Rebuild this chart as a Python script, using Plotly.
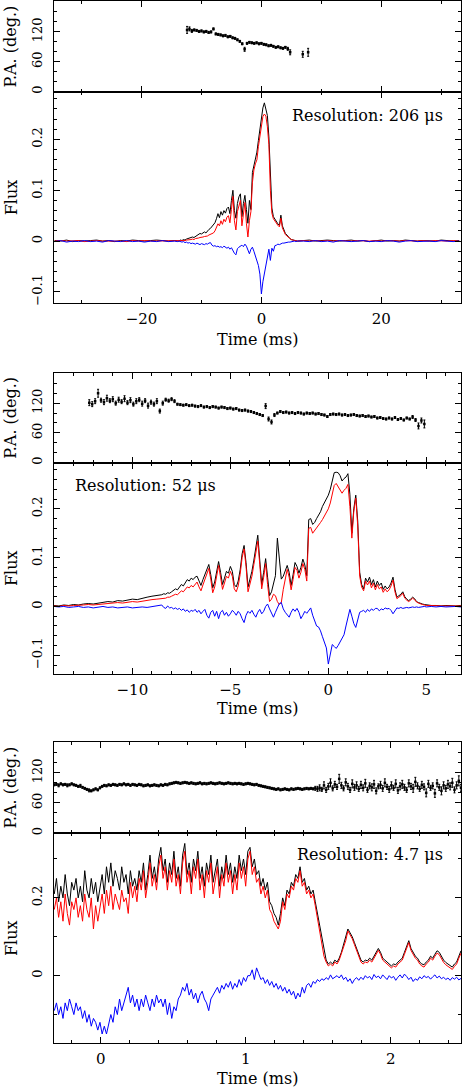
import numpy as np
import plotly.graph_objects as go

# ================= DATA =================
# ---- Panel 1 (206 us) ----
P1_MID_T0, P1_MID_DT = -14.0, 0.25
P1_I = [0.001, 0.000, 0.002, 0.001, 0.003, 0.002, 0.004, 0.005, 0.005, 0.006,
        0.008, 0.007, 0.009, 0.011, 0.013, 0.015, 0.014, 0.017, 0.018, 0.016,
        0.020, 0.023, 0.025, 0.028, 0.031, 0.036, 0.044, 0.054, 0.046, 0.058,
        0.051, 0.060, 0.055, 0.064, 0.067, 0.054, 0.080, 0.100, 0.060, 0.045,
        0.074, 0.087, 0.093, 0.048, 0.074, 0.090, 0.062, 0.035, 0.080, 0.062,
        0.135, 0.150, 0.162, 0.175, 0.198, 0.220, 0.240, 0.262, 0.272, 0.257,
        0.247, 0.205, 0.115, 0.065, 0.048, 0.043, 0.038, 0.034, 0.031, 0.051,
        0.030, 0.020, 0.015, 0.012, 0.008, 0.005, 0.003, 0.002, 0.001, 0.001,
        0.000]
P1_L = [0.000, 0.000, 0.001, 0.000, 0.001, 0.001, 0.002, 0.002, 0.003, 0.003,
        0.004, 0.003, 0.005, 0.005, 0.006, 0.007, 0.007, 0.008, 0.009, 0.009,
        0.010, 0.012, 0.013, 0.015, 0.016, 0.020, 0.027, 0.034, 0.030, 0.040,
        0.033, 0.043, 0.038, 0.047, 0.050, 0.036, 0.062, 0.088, 0.040, 0.022,
        0.058, 0.070, 0.080, 0.030, 0.058, 0.076, 0.035, 0.008, 0.040, 0.058,
        0.115, 0.140, 0.152, 0.160, 0.186, 0.205, 0.228, 0.245, 0.250, 0.246,
        0.225, 0.190, 0.100, 0.055, 0.044, 0.039, 0.034, 0.031, 0.028, 0.045,
        0.026, 0.018, 0.013, 0.010, 0.007, 0.004, 0.003, 0.002, 0.001, 0.000,
        0.000]
P1_V = [-0.001, 0.000, -0.001, -0.002, -0.001, -0.003, -0.002, -0.004, -0.003, -0.005,
        -0.004, -0.005, -0.006, -0.004, -0.006, -0.007, -0.005, -0.006, -0.007, -0.005,
        -0.006, -0.004, -0.003, -0.008, -0.010, -0.009, -0.011, -0.010, -0.012, -0.011,
        -0.013, -0.010, -0.012, -0.014, -0.012, -0.016, -0.013, -0.019, -0.024, -0.027,
        -0.015, -0.012, -0.010, -0.008, -0.011, -0.006, -0.010, -0.018, -0.025, -0.016,
        -0.012, -0.020, -0.030, -0.038, -0.048, -0.065, -0.104, -0.080, -0.065, -0.050,
        -0.036, -0.016, -0.038, -0.014, -0.020, -0.009, -0.008, -0.006, -0.007, -0.005,
        -0.004, -0.004, -0.003, -0.003, -0.002, -0.002, -0.001, -0.001, 0.000, -0.001,
        0.000]
P1_BL_T0, P1_BL_DT = -34.5, 1.0
P1_BL_I = [0.001, 0.000, 0.002, -0.001, 0.001, 0.000, 0.001, 0.002, 0.000, 0.001, -0.001,
           0.001, 0.000, 0.002, 0.001, 0.000, 0.001, 0.002, 0.001, 0.000, 0.001]
P1_BL_L = [0.000, 0.001, 0.000, 0.000, 0.001, -0.001, 0.000, 0.001, 0.000, 0.000, 0.001,
           0.000, -0.001, 0.001, 0.000, 0.001, 0.000, 0.000, 0.001, 0.000, 0.000]
P1_BL_V = [-0.001, 0.001, -0.002, 0.000, -0.001, 0.001, -0.001, 0.000, -0.002, 0.001, 0.000,
           -0.001, 0.001, -0.001, 0.000, -0.002, 0.000, -0.001, 0.001, -0.001, 0.000]
P1_BR_T0, P1_BR_DT = 7.0, 1.0
P1_BR_I = [0.001, 0.002, 0.000, 0.001, 0.002, 0.001, 0.000, 0.001, 0.002, 0.000, 0.001, -0.001, 0.001, 0.002,
           0.000, 0.001, 0.000, 0.002, 0.001, 0.000, 0.001, 0.001, 0.000, 0.002, 0.001, 0.000, 0.001]
P1_BR_L = [0.001, 0.000, 0.001, 0.000, 0.001, 0.000, 0.001, 0.000, 0.000, 0.001, 0.000, 0.000, 0.001, 0.000,
           0.001, 0.000, 0.000, 0.001, 0.000, 0.000, 0.001, 0.000, 0.001, 0.000, 0.000, 0.001, 0.000]
P1_BR_V = [0.000, -0.001, 0.001, -0.001, 0.000, -0.002, 0.001, 0.000, -0.001, 0.000, 0.001, -0.001, 0.000, -0.001,
           0.001, 0.000, -0.002, 0.000, 0.001, -0.001, 0.000, 0.000, -0.001, 0.001, 0.000, -0.001, 0.000]
P1_PA_T0, P1_PA_DT = -12.4, 0.4
P1_PA = [124, 126, 122, 124, 123, 121, 122, 120, 121, 119,
         120, 126, 116, 115, 114, 112, 113, 110, 111, 108,
         107, 104, 101, 96, 85, 97, 99, 98, 97, 98,
         96, 97, 95, 94, 92, 93, 91, 89, 90, 88,
         87, 89, 86, 79]
P1_PA_ERR = [7, 4, 3, 2, 2, 2, 2, 2, 2, 2,
             2, 2, 2, 2, 2, 2, 2, 2, 2, 2,
             2, 2, 2, 2, 4, 2, 2, 2, 2, 2,
             2, 2, 2, 2, 2, 2, 2, 2, 2, 2,
             2, 2, 3, 5]
P1_PA_EXTRA_T = [6.9, 7.8]
P1_PA_EXTRA = [75, 79]
P1_PA_EXTRA_ERR = [6, 8]

# ---- Panel 2 (52 us) ----
P2_MID_T0, P2_MID_DT = -8.5, 0.1
P2_I = [0.024, 0.026, 0.025, 0.028, 0.027, 0.030, 0.033, 0.036, 0.034, 0.040,
        0.045, 0.042, 0.050, 0.055, 0.052, 0.058, 0.055, 0.060, 0.062, 0.052,
        0.043, 0.055, 0.065, 0.075, 0.086, 0.065, 0.038, 0.050, 0.075, 0.092,
        0.070, 0.045, 0.058, 0.072, 0.068, 0.082, 0.072, 0.045, 0.040, 0.052,
        0.075, 0.108, 0.125, 0.090, 0.040, 0.055, 0.072, 0.095, 0.120, 0.146,
        0.095, 0.045, 0.070, 0.098, 0.060, 0.022, 0.030, 0.045, 0.063, 0.140,
        0.095, 0.056, 0.062, 0.075, 0.084, 0.070, 0.043, 0.065, 0.090, 0.082,
        0.068, 0.080, 0.097, 0.085, 0.063, 0.178, 0.180, 0.168, 0.172, 0.180,
        0.186, 0.194, 0.205, 0.213, 0.220, 0.228, 0.240, 0.255, 0.274, 0.275,
        0.274, 0.268, 0.257, 0.262, 0.265, 0.272, 0.230, 0.150, 0.200, 0.228,
        0.175, 0.070, 0.045, 0.036, 0.058, 0.050, 0.060, 0.045, 0.055, 0.040,
        0.052, 0.043, 0.048, 0.035, 0.042, 0.036, 0.040, 0.048, 0.060, 0.035,
        0.019, 0.022, 0.025, 0.030, 0.020, 0.015, 0.012, 0.015, 0.019, 0.016,
        0.010, 0.008, 0.006, 0.005, 0.004, 0.003]
P2_L = [0.016, 0.017, 0.017, 0.019, 0.019, 0.021, 0.023, 0.025, 0.024, 0.028,
        0.032, 0.030, 0.036, 0.040, 0.038, 0.043, 0.040, 0.046, 0.050, 0.040,
        0.032, 0.044, 0.055, 0.066, 0.078, 0.056, 0.028, 0.040, 0.066, 0.084,
        0.060, 0.035, 0.048, 0.062, 0.058, 0.072, 0.062, 0.036, 0.030, 0.042,
        0.066, 0.100, 0.118, 0.082, 0.030, 0.046, 0.062, 0.086, 0.110, 0.134,
        0.086, 0.036, 0.060, 0.088, 0.045, 0.010, 0.015, 0.025, 0.022, 0.010,
        0.004, 0.008, 0.035, 0.060, 0.076, 0.060, 0.034, 0.055, 0.080, 0.074,
        0.058, 0.070, 0.088, 0.076, 0.052, 0.160, 0.162, 0.150, 0.155, 0.160,
        0.166, 0.172, 0.178, 0.186, 0.192, 0.200, 0.212, 0.230, 0.248, 0.252,
        0.246, 0.240, 0.232, 0.238, 0.242, 0.250, 0.205, 0.140, 0.195, 0.222,
        0.165, 0.062, 0.040, 0.032, 0.052, 0.044, 0.052, 0.038, 0.048, 0.034,
        0.045, 0.036, 0.040, 0.029, 0.036, 0.030, 0.034, 0.042, 0.054, 0.030,
        0.016, 0.019, 0.022, 0.027, 0.017, 0.013, 0.010, 0.013, 0.017, 0.014,
        0.009, 0.007, 0.005, 0.004, 0.003, 0.002]
P2_V = [0.003, -0.002, -0.004, 0.001, -0.003, -0.002, -0.005, -0.003, -0.006, -0.004,
        -0.008, -0.005, -0.010, -0.007, -0.012, -0.008, -0.010, -0.006, -0.012, -0.008,
        -0.015, -0.010, -0.006, -0.018, -0.024, -0.012, -0.008, -0.020, -0.010, -0.025,
        -0.012, -0.008, -0.018, -0.012, -0.020, -0.015, -0.008, -0.012, -0.018, -0.010,
        -0.015, -0.025, -0.033, -0.018, -0.010, -0.014, -0.008, -0.016, -0.022, -0.012,
        -0.006, -0.015, -0.010, 0.000, 0.005, -0.005, -0.015, -0.022, -0.012, -0.002,
        0.006, 0.008, -0.005, -0.012, -0.018, -0.022, -0.012, -0.005, -0.010, -0.004,
        -0.012, -0.025, -0.018, -0.010, -0.014, -0.008, -0.003, -0.018, -0.028, -0.040,
        -0.042, -0.050, -0.062, -0.072, -0.085, -0.118, -0.095, -0.078, -0.082, -0.086,
        -0.080, -0.072, -0.065, -0.058, -0.040, -0.025, -0.006, -0.020, -0.035, -0.043,
        -0.030, -0.012, -0.010, -0.008, -0.012, -0.006, -0.010, -0.005, -0.008, -0.004,
        -0.004, -0.009, -0.005, -0.007, -0.003, -0.005, -0.004, -0.008, -0.015, -0.010,
        -0.003, -0.004, -0.002, -0.004, -0.003, -0.002, -0.003, -0.002, -0.001, -0.002,
        -0.001, -0.002, -0.001, -0.001, 0.000, -0.001]
P2_BL_T0, P2_BL_DT = -14.0, 0.25
P2_BL_I = [0.002, 0.001, 0.003, 0.002, 0.004, 0.003, 0.005, 0.006, 0.005, 0.007, 0.008,
           0.010, 0.009, 0.012, 0.011, 0.013, 0.015, 0.014, 0.017, 0.019, 0.021, 0.022]
P2_BL_L = [0.001, 0.000, 0.002, 0.001, 0.002, 0.002, 0.003, 0.004, 0.003, 0.004, 0.005,
           0.006, 0.006, 0.008, 0.007, 0.008, 0.010, 0.009, 0.011, 0.013, 0.014, 0.015]
P2_BL_V = [0.000, -0.001, 0.000, -0.002, -0.001, 0.000, -0.002, -0.001, -0.003, -0.002, 0.000,
           -0.002, -0.001, -0.003, -0.002, -0.001, -0.003, -0.002, -0.001, -0.002, 0.000, 0.002]
P2_BR_T0, P2_BR_DT = 5.25, 0.25
P2_BR_I = [0.002, 0.002, 0.001, 0.002, 0.001, 0.001, 0.002, 0.001]
P2_BR_L = [0.002, 0.001, 0.001, 0.001, 0.001, 0.000, 0.001, 0.001]
P2_BR_V = [0.000, -0.001, 0.000, -0.001, 0.000, 0.000, -0.001, 0.000]
P2_PA_T0, P2_PA_DT = -12.2, 0.15
P2_PA = [121, 118, 124, 140, 126, 122, 130, 125, 128, 120,
         127, 123, 129, 121, 126, 118, 124, 127, 119, 125,
         115, 122, 118, 124, 104, 120, 127, 125, 128, 124,
         118, 117, 116, 117, 115, 116, 114, 113, 115, 112,
         113, 111, 113, 112, 110, 112, 111, 109, 110, 108,
         109, 106, 105, 106, 104, 103, 101, 99, 97, 95,
         114, 88, 82, 96, 100, 103, 101, 102, 100, 101,
         99, 101, 100, 98, 100, 99, 100, 98, 99, 97,
         96, 93, 97, 98, 97, 98, 96, 97, 95, 96,
         97, 95, 94, 95, 93, 94, 92, 93, 90, 91,
         89, 88, 90, 88, 91, 87, 89, 86, 90, 88,
         92, 86, 74, 85, 78]
P2_PA_ERR = [6, 5, 5, 8, 4, 5, 6, 4, 5, 4,
             5, 4, 6, 4, 5, 4, 5, 4, 5, 4,
             5, 4, 4, 5, 4, 4, 3, 3, 3, 3,
             2, 2, 2, 2, 2, 2, 2, 2, 2, 2,
             2, 2, 2, 2, 2, 2, 2, 2, 2, 2,
             2, 2, 2, 2, 2, 2, 2, 2, 2, 2,
             5, 4, 4, 3, 2, 2, 2, 2, 2, 2,
             2, 2, 2, 2, 2, 2, 2, 2, 2, 2,
             2, 2, 2, 2, 2, 2, 2, 2, 2, 2,
             2, 2, 2, 2, 2, 2, 2, 2, 2, 2,
             2, 2, 2, 2, 2, 2, 2, 2, 2, 2,
             3, 3, 6, 5, 8]

# ---- Panel 3 (4.7 us) ----
P3_T0, P3_DT = -0.32, 0.015
P3_I = [0.21, 0.25, 0.19, 0.23, 0.20, 0.26, 0.21, 0.18, 0.24, 0.22,
        0.25, 0.20, 0.23, 0.19, 0.27, 0.22, 0.20, 0.25, 0.21, 0.24,
        0.19, 0.23, 0.26, 0.21, 0.28, 0.24, 0.29, 0.23, 0.27, 0.25,
        0.22, 0.28, 0.24, 0.26, 0.21, 0.27, 0.23, 0.25, 0.22, 0.27,
        0.24, 0.29, 0.22, 0.26, 0.31, 0.25, 0.28, 0.24, 0.30, 0.33,
        0.27, 0.30, 0.24, 0.29, 0.26, 0.32, 0.25, 0.28, 0.23, 0.31,
        0.34, 0.26, 0.29, 0.24, 0.30, 0.27, 0.32, 0.25, 0.28, 0.23,
        0.29, 0.26, 0.31, 0.24, 0.27, 0.30, 0.23, 0.28, 0.25, 0.31,
        0.26, 0.29, 0.24, 0.28, 0.25, 0.31, 0.27, 0.30, 0.26, 0.32,
        0.33, 0.28, 0.30, 0.26, 0.27, 0.23, 0.25, 0.22, 0.24, 0.19,
        0.18, 0.16, 0.15, 0.13, 0.16, 0.20, 0.18, 0.22, 0.21, 0.24,
        0.23, 0.26, 0.25, 0.28, 0.24, 0.25, 0.22, 0.23, 0.21, 0.22,
        0.19, 0.16, 0.12, 0.09, 0.06, 0.04, 0.03, 0.035, 0.03, 0.04,
        0.035, 0.045, 0.06, 0.08, 0.095, 0.12, 0.11, 0.10, 0.085, 0.07,
        0.05, 0.04, 0.035, 0.04, 0.038, 0.045, 0.04, 0.05, 0.06, 0.07,
        0.06, 0.045, 0.04, 0.035, 0.03, 0.025, 0.03, 0.028, 0.035, 0.04,
        0.045, 0.06, 0.075, 0.09, 0.07, 0.06, 0.05, 0.045, 0.035, 0.03,
        0.028, 0.035, 0.04, 0.05, 0.045, 0.055, 0.064, 0.06, 0.05, 0.04,
        0.034, 0.03, 0.025, 0.022, 0.03, 0.035, 0.05, 0.064]
P3_L = [0.17, 0.20, 0.15, 0.19, 0.14, 0.21, 0.16, 0.13, 0.19, 0.17,
        0.20, 0.15, 0.18, 0.14, 0.21, 0.17, 0.15, 0.20, 0.12, 0.18,
        0.14, 0.18, 0.21, 0.16, 0.22, 0.18, 0.23, 0.17, 0.21, 0.19,
        0.17, 0.22, 0.19, 0.20, 0.16, 0.24, 0.20, 0.23, 0.19, 0.25,
        0.22, 0.27, 0.20, 0.24, 0.29, 0.23, 0.26, 0.22, 0.28, 0.31,
        0.25, 0.28, 0.22, 0.27, 0.24, 0.30, 0.23, 0.26, 0.21, 0.29,
        0.32, 0.24, 0.27, 0.21, 0.28, 0.25, 0.30, 0.22, 0.26, 0.20,
        0.27, 0.24, 0.29, 0.21, 0.25, 0.28, 0.20, 0.26, 0.23, 0.29,
        0.24, 0.27, 0.21, 0.26, 0.22, 0.29, 0.25, 0.28, 0.23, 0.30,
        0.32, 0.26, 0.28, 0.24, 0.25, 0.21, 0.23, 0.20, 0.22, 0.17,
        0.16, 0.14, 0.13, 0.12, 0.14, 0.19, 0.17, 0.21, 0.20, 0.23,
        0.22, 0.25, 0.24, 0.27, 0.23, 0.24, 0.21, 0.22, 0.20, 0.21,
        0.18, 0.15, 0.11, 0.08, 0.05, 0.035, 0.025, 0.03, 0.025, 0.035,
        0.03, 0.04, 0.055, 0.075, 0.09, 0.115, 0.105, 0.095, 0.08, 0.065,
        0.045, 0.035, 0.03, 0.035, 0.033, 0.04, 0.035, 0.045, 0.055, 0.065,
        0.055, 0.04, 0.035, 0.03, 0.025, 0.02, 0.025, 0.022, 0.03, 0.035,
        0.04, 0.055, 0.07, 0.085, 0.065, 0.055, 0.045, 0.04, 0.03, 0.025,
        0.022, 0.03, 0.035, 0.045, 0.04, 0.05, 0.058, 0.054, 0.044, 0.034,
        0.028, 0.024, 0.018, 0.016, 0.024, 0.03, 0.045, 0.058]
P3_V = [-0.09, -0.07, -0.10, -0.08, -0.11, -0.07, -0.09, -0.06, -0.08, -0.10,
        -0.07, -0.09, -0.08, -0.11, -0.09, -0.12, -0.10, -0.13, -0.11, -0.12,
        -0.14, -0.12, -0.15, -0.13, -0.15, -0.12, -0.10, -0.12, -0.08, -0.10,
        -0.06, -0.09, -0.07, -0.05, -0.03, -0.07, -0.05, -0.08, -0.06, -0.09,
        -0.06, -0.08, -0.05, -0.07, -0.09, -0.06, -0.08, -0.05, -0.07, -0.06,
        -0.08, -0.06, -0.10, -0.07, -0.11, -0.08, -0.09, -0.06, -0.05, -0.03,
        -0.04, -0.02, -0.05, -0.035, -0.06, -0.045, -0.07, -0.05, -0.04, -0.06,
        -0.07, -0.09, -0.06, -0.05, -0.04, -0.03, -0.045, -0.025, -0.035, -0.02,
        -0.03, -0.015, -0.035, -0.02, -0.03, -0.01, -0.025, -0.005, -0.015, 0.0,
        0.0, 0.015, -0.01, 0.02, 0.005, -0.01, -0.005, -0.02, -0.01, -0.025,
        -0.015, -0.03, -0.02, -0.035, -0.025, -0.04, -0.03, -0.045, -0.035, -0.05,
        -0.04, -0.06, -0.045, -0.055, -0.03, -0.045, -0.025, -0.02, -0.03, -0.015,
        -0.02, -0.01, -0.015, -0.008, -0.012, -0.005, -0.01, 0.002, -0.008, -0.004,
        0.0, -0.006, 0.002, -0.01, -0.004, -0.015, -0.008, -0.02, -0.01, -0.005,
        -0.012, -0.004, -0.01, 0.0, -0.006, -0.002, -0.01, 0.003, -0.005, -0.001,
        -0.008, 0.002, -0.004, -0.01, 0.0, -0.006, -0.002, -0.012, -0.004, 0.002,
        -0.006, 0.004, -0.002, -0.01, -0.004, -0.015, -0.008, -0.012, -0.003, -0.008,
        0.0, -0.005, -0.002, -0.009, -0.003, 0.002, -0.006, -0.001, -0.008, -0.004,
        -0.01, -0.006, -0.012, -0.005, -0.009, -0.004, -0.011, -0.007]
P3_PA = [96, 97, 95, 98, 96, 97, 95, 96, 98, 96,
         95, 93, 94, 91, 89, 87, 85, 84, 86, 88,
         86, 90, 93, 95, 94, 96, 95, 97, 96, 95,
         97, 96, 98, 96, 97, 95, 97, 96, 95, 97,
         96, 94, 95, 96, 94, 95, 96, 95, 94, 96,
         95, 97, 96, 98, 99, 100, 101, 100, 99, 100,
         101, 100, 99, 100, 99, 98, 99, 100, 98, 99,
         98, 99, 100, 99, 98, 99, 100, 99, 98, 99,
         100, 99, 98, 99, 98, 99, 98, 97, 98, 99,
         98, 97, 96, 97, 95, 94, 93, 92, 91, 90,
         89, 88, 87, 88, 86, 87, 88, 87, 86, 88,
         87, 88, 89, 88, 87, 88, 89, 88, 89, 88,
         89, 88, 90, 87, 95, 86, 93, 100, 89, 97,
         92, 108, 95, 89, 101, 93, 86, 98, 91, 95,
         88, 96, 90, 99, 86, 94, 91, 97, 84, 93,
         96, 89, 100, 92, 87, 95, 90, 98, 85, 93,
         97, 91, 86, 99, 93, 89, 102, 94, 88, 96,
         92, 80, 98, 90, 94, 79, 99, 91, 84, 95,
         89, 97, 93, 100, 86, 95, 104, 90]
P3_PA_ERR = [2, 2, 3, 2, 2, 2, 3, 2, 2, 2,
             2, 2, 3, 2, 2, 2, 3, 2, 2, 2,
             2, 2, 2, 2, 2, 2, 2, 2, 2, 2,
             2, 2, 2, 2, 2, 2, 2, 2, 2, 2,
             2, 2, 2, 2, 2, 2, 2, 2, 2, 2,
             2, 2, 2, 2, 2, 2, 2, 2, 2, 2,
             2, 2, 2, 2, 2, 2, 2, 2, 2, 2,
             2, 2, 2, 2, 2, 2, 2, 2, 2, 2,
             2, 2, 2, 2, 2, 2, 2, 2, 2, 2,
             2, 2, 2, 2, 2, 2, 2, 2, 2, 2,
             2, 2, 2, 2, 2, 2, 2, 2, 2, 2,
             2, 2, 2, 2, 2, 2, 2, 2, 2, 2,
             4, 5, 6, 4, 7, 5, 6, 8, 5, 6,
             5, 9, 6, 5, 7, 6, 5, 8, 6, 7,
             5, 7, 6, 8, 5, 6, 7, 8, 6, 5,
             7, 6, 8, 5, 6, 7, 5, 8, 6, 7,
             8, 6, 5, 7, 6, 8, 9, 6, 5, 7,
             6, 8, 7, 5, 6, 8, 7, 6, 8, 7,
             6, 8, 7, 9, 6, 7, 10, 7]

RES_LABELS = ["Resolution: 206 \u03bcs", "Resolution: 52 \u03bcs", "Resolution: 4.7 \u03bcs"]
X_TITLE = "Time (ms)"
PA_TITLE = "P.A. (deg.)"
FLUX_TITLE = "Flux"


def grid(t0, dt, vals):
    return t0 + dt * np.arange(len(vals))


def concat(*parts):
    ts, vs = [], []
    for t0, dt, v in parts:
        ts.append(grid(t0, dt, v))
        vs.append(np.asarray(v, float))
    return np.concatenate(ts), np.concatenate(vs)


panels_data = [
    dict(I=concat((P1_BL_T0, P1_BL_DT, P1_BL_I), (P1_MID_T0, P1_MID_DT, P1_I), (P1_BR_T0, P1_BR_DT, P1_BR_I)),
         L=concat((P1_BL_T0, P1_BL_DT, P1_BL_L), (P1_MID_T0, P1_MID_DT, P1_L), (P1_BR_T0, P1_BR_DT, P1_BR_L)),
         V=concat((P1_BL_T0, P1_BL_DT, P1_BL_V), (P1_MID_T0, P1_MID_DT, P1_V), (P1_BR_T0, P1_BR_DT, P1_BR_V)),
         PA=[(grid(P1_PA_T0, P1_PA_DT, P1_PA), P1_PA, P1_PA_ERR),
             (np.array(P1_PA_EXTRA_T), P1_PA_EXTRA, P1_PA_EXTRA_ERR)]),
    dict(I=concat((P2_BL_T0, P2_BL_DT, P2_BL_I), (P2_MID_T0, P2_MID_DT, P2_I), (P2_BR_T0, P2_BR_DT, P2_BR_I)),
         L=concat((P2_BL_T0, P2_BL_DT, P2_BL_L), (P2_MID_T0, P2_MID_DT, P2_L), (P2_BR_T0, P2_BR_DT, P2_BR_L)),
         V=concat((P2_BL_T0, P2_BL_DT, P2_BL_V), (P2_MID_T0, P2_MID_DT, P2_V), (P2_BR_T0, P2_BR_DT, P2_BR_V)),
         PA=[(grid(P2_PA_T0, P2_PA_DT, P2_PA), P2_PA, P2_PA_ERR)]),
    dict(I=concat((P3_T0, P3_DT, P3_I)),
         L=concat((P3_T0, P3_DT, P3_L)),
         V=concat((P3_T0, P3_DT, P3_V)),
         PA=[(grid(P3_T0, P3_DT, P3_PA), P3_PA, P3_PA_ERR)]),
]

# ================= LAYOUT =================
W, H = 462, 1091
X_LEFT, X_RIGHT = 54, 461
# pixel rows: (pa_top, pa_bottom(=flux_top), flux_bottom)
ROWS = [(0.5, 91, 303), (373.3, 463.3, 675), (744, 835, 1046)]
XRANGES = [(-34.6, 33.3), (-14.0, 6.77), (-0.322, 2.485)]
XDTICK = [20, 5, 1]
XMINOR = [10, 1, 0.2]
FRANGES = [(-0.1216, 0.294), (-0.1374, 0.2947), (-0.1736, 0.367)]
FDTICK = [0.1, 0.1, 0.2]
FMINOR = [0.02, 0.02, 0.1]
XTITLE_Y = [340, 710, 1081.5]
RES_POS = [(290, 115), (73, 486), (295, 857)]

FONT = "DejaVu Serif"
COLORS = dict(I="black", L="#ff0000", V="#0000ff")


def py(p):
    return 1 - p / H


def px(p):
    return p / W


fig = go.Figure()
layout = dict(width=W, height=H, margin=dict(l=0, r=0, t=0, b=0),
              paper_bgcolor="white", plot_bgcolor="white", showlegend=False,
              font=dict(family=FONT, color="black"))
annotations = []

base_axis = dict(showline=True, linecolor="black", linewidth=1, mirror="allticks",
                 ticks="inside", ticklen=6, tickwidth=1, tickcolor="black",
                 showgrid=False, zeroline=False,
                 minor=dict(ticks="inside", ticklen=3, tickwidth=1, tickcolor="black", showgrid=False))

for i, pdat in enumerate(panels_data):
    pa_top, mid, fl_bot = ROWS[i]
    xf, xp = 2 * i + 1, 2 * i + 2
    xf_name = "xaxis" if xf == 1 else f"xaxis{xf}"
    yf_name = "yaxis" if xf == 1 else f"yaxis{xf}"
    xf_ref = "x" if xf == 1 else f"x{xf}"
    yf_ref = "y" if xf == 1 else f"y{xf}"
    xp_ref, yp_ref = f"x{xp}", f"y{xp}"

    xcommon = dict(base_axis, domain=[px(X_LEFT), px(X_RIGHT)], range=list(XRANGES[i]),
                   tick0=0, dtick=XDTICK[i],
                   minor=dict(base_axis["minor"], tick0=0, dtick=XMINOR[i]))
    layout[xf_name] = dict(xcommon, anchor=yf_ref, showticklabels=True,
                           tickfont=dict(family=FONT, size=15, color="black"),
                           ticklabelstandoff=2)
    layout[f"xaxis{xp}"] = dict(xcommon, anchor=yp_ref, showticklabels=False)

    layout[yf_name] = dict(base_axis, domain=[py(fl_bot), py(mid)], anchor=xf_ref,
                           range=list(FRANGES[i]), tick0=0, dtick=FDTICK[i],
                           minor=dict(base_axis["minor"], tick0=0, dtick=FMINOR[i]),
                           tickangle=-90, ticklabelstandoff=6,
                           tickfont=dict(family=FONT, size=13, color="black"))
    layout[f"yaxis{xp}"] = dict(base_axis, domain=[py(mid), py(pa_top)], anchor=xp_ref,
                                range=[0, 181], tickvals=[0, 60, 120],
                                minor=dict(base_axis["minor"], tick0=0, dtick=20),
                                tickangle=-90, ticklabelstandoff=6,
                                tickfont=dict(family=FONT, size=13, color="black"))

    for key in ("I", "L", "V"):
        t, v = pdat[key]
        fig.add_trace(go.Scatter(x=t, y=v, mode="lines", xaxis=xf_ref, yaxis=yf_ref,
                                 line=dict(color=COLORS[key], width=1), hoverinfo="skip"))
    for (t, pa, err) in pdat["PA"]:
        fig.add_trace(go.Scatter(x=t, y=pa, mode="markers", xaxis=xp_ref, yaxis=yp_ref,
                                 marker=dict(color="black", size=2.5, symbol="square"),
                                 error_y=dict(type="data", array=err, color="black",
                                              thickness=1, width=1),
                                 hoverinfo="skip"))

    annotations.append(dict(text=X_TITLE, xref="paper", yref="paper",
                            x=px((X_LEFT + X_RIGHT) / 2), y=py(XTITLE_Y[i]),
                            xanchor="center", yanchor="middle", showarrow=False,
                            font=dict(family=FONT, size=16, color="black")))
    annotations.append(dict(text=PA_TITLE, xref="paper", yref="paper",
                            x=px(11), y=py((pa_top + mid) / 2), textangle=-90,
                            xanchor="center", yanchor="middle", showarrow=False,
                            font=dict(family=FONT, size=16, color="black")))
    annotations.append(dict(text=FLUX_TITLE, xref="paper", yref="paper",
                            x=px(11), y=py((mid + fl_bot) / 2), textangle=-90,
                            xanchor="center", yanchor="middle", showarrow=False,
                            font=dict(family=FONT, size=16, color="black")))
    rx, ry = RES_POS[i]
    annotations.append(dict(text=RES_LABELS[i], xref="paper", yref="paper",
                            x=px(rx), y=py(ry), xanchor="left", yanchor="middle",
                            showarrow=False, font=dict(family=FONT, size=16, color="black")))

layout["annotations"] = annotations
fig.update_layout(**layout)
fig.write_html("out.html", config={"responsive": False, "displayModeBar": False},
               post_script="document.body.style.margin='0';document.body.style.overflow='hidden';")
